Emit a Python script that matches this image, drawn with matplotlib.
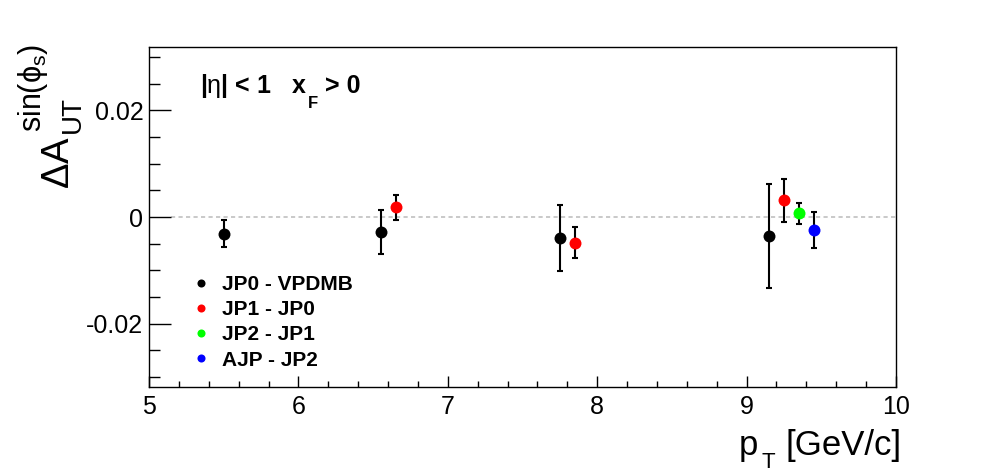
import matplotlib
matplotlib.use("Agg")
import matplotlib.pyplot as plt
from matplotlib.lines import Line2D
from matplotlib.ticker import MultipleLocator, FuncFormatter

plt.rcParams['font.family'] = ['Liberation Sans', 'DejaVu Sans']
plt.rcParams['mathtext.fontset'] = 'custom'
plt.rcParams['mathtext.rm'] = 'Liberation Sans'
plt.rcParams['mathtext.it'] = 'Liberation Sans'
plt.rcParams['mathtext.bf'] = 'Liberation Sans:bold'

# ---- data ----
series_labels = ["JP0 - VPDMB", "JP1 - JP0", "JP2 - JP1", "AJP - JP2"]
series_colors = ["#000000", "#ff0000", "#00ff00", "#0000ff"]

jp0_x = [5.5, 6.55, 7.75, 9.15]
jp0_y = [-0.0031, -0.0028, -0.0039, -0.0036]
jp0_err = [0.0026, 0.0041, 0.0062, 0.0098]

jp1_x = [6.65, 7.85, 9.25]
jp1_y = [0.0018, -0.0048, 0.0031]
jp1_err = [0.0023, 0.0029, 0.0040]

jp2_x = [9.35]
jp2_y = [0.0007]
jp2_err = [0.0020]

ajp_x = [9.45]
ajp_y = [-0.0024]
ajp_err = [0.0034]

x_limits = (5, 10)
y_limits = (-0.0319, 0.0319)
zero_line_start = 5.15

W, H = 996, 472


def fx(px):
    return px / W


def fy(py):
    return 1 - py / H


# ---- figure ----
fig = plt.figure(figsize=(W / 100, H / 100), dpi=100)
ax = fig.add_axes([fx(149), fy(387), (896 - 149) / W, (387 - 47) / H])

ax.plot([zero_line_start, x_limits[1]], [0, 0], color="#c0c0c0",
        lw=1.2, linestyle=(0, (2.5, 2)), zorder=1)

all_series = [(jp0_x, jp0_y, jp0_err), (jp1_x, jp1_y, jp1_err),
              (jp2_x, jp2_y, jp2_err), (ajp_x, ajp_y, ajp_err)]
for (xs, ys, es), col in zip(all_series, series_colors):
    ax.errorbar(xs, ys, yerr=es, fmt='none', ecolor='black', elinewidth=1.5,
                capsize=2.2, capthick=1.5, zorder=2)
    ax.plot(xs, ys, 'o', color=col, markersize=8.6, markeredgewidth=0, zorder=3)

ax.set_xlim(*x_limits)
ax.set_ylim(*y_limits)
ax.xaxis.set_major_locator(MultipleLocator(1))
ax.xaxis.set_minor_locator(MultipleLocator(0.2))
ax.yaxis.set_major_locator(MultipleLocator(0.02))
ax.yaxis.set_minor_locator(MultipleLocator(0.005))
ax.yaxis.set_major_formatter(FuncFormatter(
    lambda v, p: "0" if abs(v) < 1e-12 else f"{v:g}"))

ax.tick_params(axis='both', which='both', direction='in', top=False, right=False,
               labelsize=18, width=1.0)
ax.tick_params(axis='y', which='major', length=16, pad=4)
ax.tick_params(axis='y', which='minor', length=8)
ax.tick_params(axis='x', which='major', length=8, pad=6)
ax.tick_params(axis='x', which='minor', length=4)
for s in ax.spines.values():
    s.set_linewidth(1.0)

# ---- x axis title: p_T [GeV/c] ----
t_unit = fig.text(fx(902), fy(455), "[GeV/c]", ha='right', va='baseline', fontsize=25)
t_T = ax.annotate("T", xy=(0, H - 455), xycoords=(t_unit, 'figure pixels'),
                  xytext=(-8, -9.5), textcoords='offset points',
                  ha='right', va='baseline', fontsize=16)
ax.annotate("p", xy=(0, H - 455), xycoords=(t_T, 'figure pixels'),
            xytext=(-2, 0), textcoords='offset points',
            ha='right', va='baseline', fontsize=25)

# ---- y axis title: Delta A_UT^{sin(phi_s)} ----
fig.text(fx(69), fy(189), r"$\Delta$A", rotation=90, rotation_mode='anchor',
         ha='left', va='baseline', fontsize=27.5)
fig.text(fx(80), fy(133), "UT", rotation=90, rotation_mode='anchor',
         ha='left', va='baseline', fontsize=20)
fig.text(fx(41), fy(132), r"sin($\phi_{\mathrm{s}}$)", rotation=90, rotation_mode='anchor',
         ha='left', va='baseline', fontsize=22)

# ---- cut text ----
y0 = (387 - 93) / (387 - 47)
t1 = ax.text((200 - 149) / (896 - 149), y0, r"|$\eta$| < 1   x", transform=ax.transAxes,
             fontsize=18, fontweight='bold', ha='left', va='baseline')
t2 = ax.annotate("F", xy=(1, y0), xycoords=(t1, 'axes fraction'),
                 xytext=(1, -10.5), textcoords='offset points',
                 fontsize=12, fontweight='bold', ha='left', va='baseline')
ax.annotate("> 0", xy=(1, y0), xycoords=(t2, 'axes fraction'),
            xytext=(5, 0), textcoords='offset points',
            fontsize=18, fontweight='bold', ha='left', va='baseline')

# ---- legend ----
handles = [Line2D([], [], linestyle='none', marker='o', color=c, markersize=5.8,
                  markeredgewidth=0) for c in series_colors]
ax.legend(handles, series_labels, loc='upper left',
          bbox_to_anchor=(fx(190.6), fy(275)), bbox_transform=fig.transFigure,
          frameon=False, prop={'weight': 'bold', 'size': 15},
          handlelength=1.0, handletextpad=0.5, labelspacing=0.3,
          borderaxespad=0, borderpad=0)

fig.savefig("out.png", dpi=100)
